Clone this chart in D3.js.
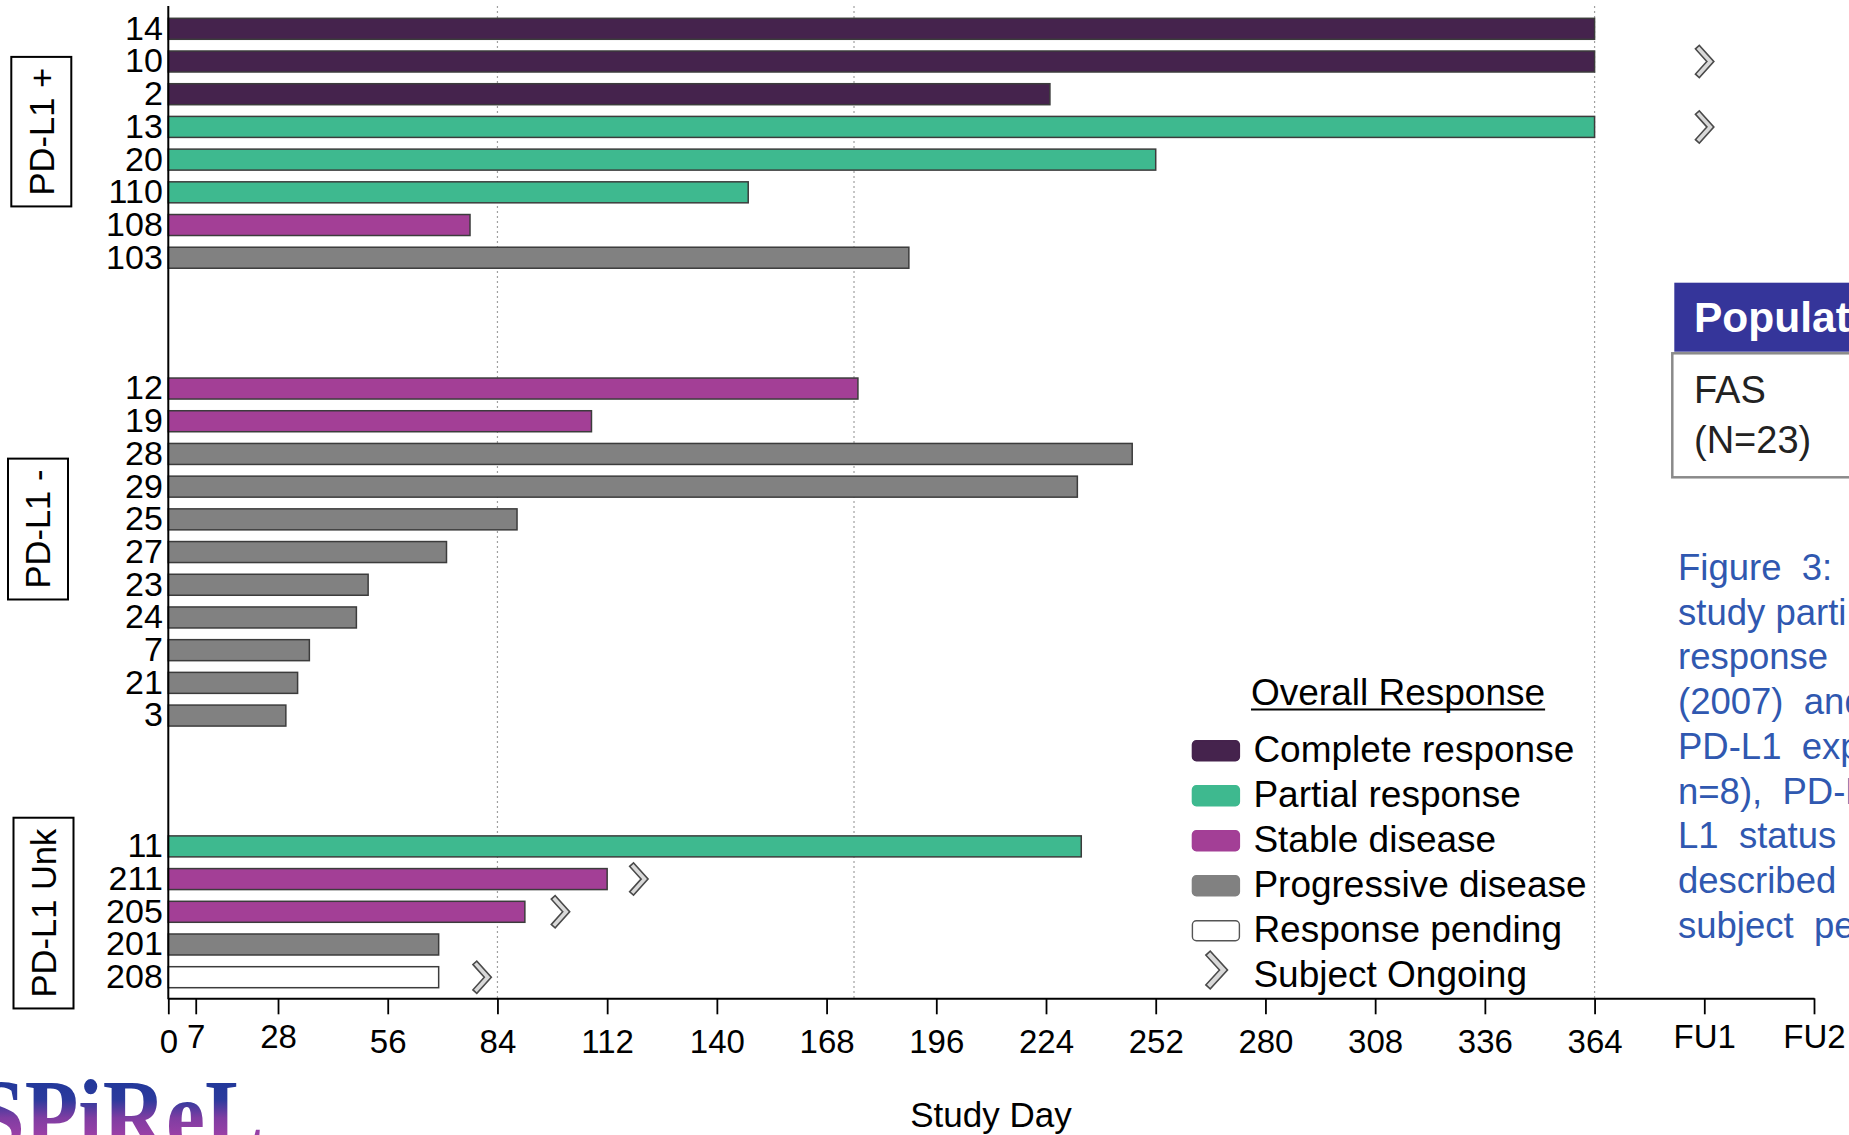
<!DOCTYPE html>
<html>
<head>
<meta charset="utf-8">
<script src="https://cdn.jsdelivr.net/npm/d3@7"></script>
<style>
  html, body { margin: 0; padding: 0; background: #fff; }
  svg { display: block; }
</style>
</head>
<body>
<svg id="chart" width="1849" height="1135"></svg>
<script>
// ---- data -------------------------------------------------------------
// Subjects listed top to bottom inside each PD-L1 stratum
const subjects = ["14", "10", "2", "13", "20", "110", "108", "103",
  "12", "19", "28", "29", "25", "27", "23", "24", "7", "21", "3",
  "11", "211", "205", "201", "208"];
const strata = ["PD-L1 +", "PD-L1 +", "PD-L1 +", "PD-L1 +", "PD-L1 +", "PD-L1 +", "PD-L1 +", "PD-L1 +",
  "PD-L1 -", "PD-L1 -", "PD-L1 -", "PD-L1 -", "PD-L1 -", "PD-L1 -", "PD-L1 -", "PD-L1 -", "PD-L1 -", "PD-L1 -", "PD-L1 -",
  "PD-L1 Unk", "PD-L1 Unk", "PD-L1 Unk", "PD-L1 Unk", "PD-L1 Unk"];
// Last study day on treatment
const studyDays = [364, 364, 225, 364, 252, 148, 77, 189,
  176, 108, 246, 232, 89, 71, 51, 48, 36, 33, 30,
  233, 112, 91, 69, 69];
// Best overall response: CR, PR, SD, PD, NE (pending)
const responses = ["CR", "CR", "CR", "PR", "PR", "PR", "SD", "PD",
  "SD", "SD", "PD", "PD", "PD", "PD", "PD", "PD", "PD", "PD", "PD",
  "PR", "SD", "SD", "PD", "NE"];
// Subjects still on study and the day where their marker sits
const ongoingSubjects = ["10", "13", "211", "205", "208"];
const ongoingMarkDay = [392, 392, 120, 100, 80];

const groupNames = ["PD-L1 +", "PD-L1 -", "PD-L1 Unk"];
const responseCodes = ["CR", "PR", "SD", "PD", "NE"];
const responseNames = ["Complete response", "Partial response", "Stable disease",
  "Progressive disease", "Response pending"];
const responseColors = ["#45234d", "#3eb98f", "#a33f96", "#818181", "#ffffff"];

const tickDays = [0, 7, 28, 56, 84, 112, 140, 168, 196, 224, 252, 280, 308, 336, 364, 392, 420];
const tickText = ["0", "7", "28", "56", "84", "112", "140", "168", "196", "224", "252",
  "280", "308", "336", "364", "FU1", "FU2"];
const referenceDays = [84, 175, 364];

const captionLines = ["Figure  3:", "study parti", "response", "(2007)  and", "PD-L1  exp",
  "n=8),  PD-L1", "L1  status", "described", "subject  pe"];

// ---- layout -----------------------------------------------------------
const FONT = "'Liberation Sans', Arial, Helvetica, sans-serif";
const axisY = 998.3;
const raisedTicks = [7, 28, 392, 420];
const groupBoxX = [41.3, 38, 43.5];
const groupShift = [-11.6, -23, 1.3];

const svg = d3.select("#chart");

// rows: strata separated by three empty rows
const rowKeys = [];
groupNames.forEach((g, gi) => {
  if (gi > 0) for (let k = 0; k < 3; k++) rowKeys.push(`gap-${gi}-${k}`);
  subjects.forEach((s, i) => { if (strata[i] === g) rowKeys.push(s); });
});

const x = d3.scaleLinear().domain([0, 420]).range([168.3, 1814]);
const y = d3.scaleBand().domain(rowKeys).range([12.45, 993.55])
  .paddingInner(0.358).paddingOuter(0.179);
const color = d3.scaleOrdinal().domain(responseCodes).range(responseColors);

const rows = subjects.map((s, i) => ({ s, day: studyDays[i], r: responses[i] }));

// dotted reference lines
svg.append("g").selectAll("line").data(referenceDays).join("line")
  .attr("x1", d => x(d)).attr("x2", d => x(d))
  .attr("y1", 6).attr("y2", axisY)
  .attr("stroke", "#a0a0a0").attr("stroke-width", 1.2)
  .attr("stroke-dasharray", "2,3");

// bars
svg.append("g").selectAll("rect").data(rows).join("rect")
  .attr("x", x(0))
  .attr("y", d => y(d.s))
  .attr("width", d => x(d.day) - x(0))
  .attr("height", y.bandwidth())
  .attr("fill", d => color(d.r))
  .attr("stroke", "#3c3c3c").attr("stroke-width", 1.5);

// subject labels
const gy = svg.append("g").attr("transform", `translate(${x(0)},0)`)
  .call(d3.axisLeft(y).tickSize(0).tickPadding(5.5)
    .tickFormat(k => k.startsWith("gap") ? "" : k));
gy.attr("font-family", FONT).attr("font-size", 34);
gy.select(".domain").remove();
gy.selectAll("text").attr("fill", "#000");

// vertical axis line
svg.append("line")
  .attr("x1", x(0)).attr("x2", x(0)).attr("y1", 6).attr("y2", axisY + 1)
  .attr("stroke", "#000").attr("stroke-width", 2);

// study day axis
const gx = svg.append("g").attr("transform", `translate(0,${axisY})`)
  .call(d3.axisBottom(x).tickValues(tickDays)
    .tickFormat((d, i) => tickText[i]).tickSize(16).tickSizeOuter(0).tickPadding(15.3));
gx.attr("font-family", FONT).attr("font-size", 33);
gx.select(".domain").attr("stroke", "#000").attr("stroke-width", 2);
gx.selectAll(".tick line").attr("stroke", "#000").attr("stroke-width", 1.8);
gx.selectAll(".tick text").attr("fill", "#000")
  .filter(d => raisedTicks.includes(d)).attr("y", 16 + 10);

svg.append("text")
  .attr("x", 991).attr("y", 1127)
  .attr("text-anchor", "middle")
  .attr("font-family", FONT).attr("font-size", 35).attr("fill", "#000")
  .text("Study Day");

// ongoing chevron marker
function drawChevron(g, w, h, t) {
  const pts = [[-w / 2, -h / 2], [w / 2, 0], [-w / 2, h / 2]];
  const ux = (w) / Math.hypot(w, h / 2), uy = (h / 2) / Math.hypot(w, h / 2);
  const s = 1.6;
  const inner = [[-w / 2 + s * ux, -h / 2 + s * uy], [w / 2, 0], [-w / 2 + s * ux, h / 2 - s * uy]];
  g.append("path").attr("d", d3.line()(pts))
    .attr("fill", "none").attr("stroke", "#4a4a4a").attr("stroke-width", t)
    .attr("stroke-linejoin", "miter").attr("stroke-miterlimit", 6);
  g.append("path").attr("d", d3.line()(inner))
    .attr("fill", "none").attr("stroke", "#d9d9d9").attr("stroke-width", t - 3.2)
    .attr("stroke-linejoin", "miter").attr("stroke-miterlimit", 6);
}

svg.append("g").selectAll("g")
  .data(ongoingSubjects.map((s, i) => ({ s, day: ongoingMarkDay[i] })))
  .join("g")
  .attr("transform", d => `translate(${x(d.day) - 0.7},${y(d.s) + y.bandwidth() / 2})`)
  .each(function () { drawChevron(d3.select(this), 13.5, 30, 6.8); });

// stratum boxes
groupNames.forEach((g, gi) => {
  const members = subjects.filter((s, i) => strata[i] === g);
  const top = y(members[0]);
  const bottom = y(members[members.length - 1]) + y.bandwidth();
  const cy = (top + bottom) / 2 + groupShift[gi];
  const gg = svg.append("g").attr("transform", `translate(${groupBoxX[gi]},${cy}) rotate(-90)`);
  const rect = gg.append("rect");
  const txt = gg.append("text")
    .attr("text-anchor", "middle").attr("dy", "0.358em")
    .attr("font-family", FONT).attr("font-size", 34.5).attr("fill", "#000")
    .text(g);
  const len = txt.node().getComputedTextLength();
  rect.attr("x", -len / 2 - 11).attr("width", len + 22)
    .attr("y", -30).attr("height", 60)
    .attr("fill", "#fff").attr("stroke", "#000").attr("stroke-width", 2);
});

// legend
const legend = svg.append("g").attr("font-family", FONT).attr("font-size", 37).attr("fill", "#000");
const title = legend.append("text").attr("x", 1251).attr("y", 705).text("Overall Response");
legend.append("rect").attr("x", 1251).attr("y", 708.5)
  .attr("width", title.node().getComputedTextLength()).attr("height", 2).attr("fill", "#000");

const legendRow = d3.scaleLinear().domain([0, 1]).range([761.7, 806.7]);
const items = legend.selectAll("g.item").data(responseCodes).join("g").attr("class", "item");
items.append("rect")
  .attr("x", 1192.4).attr("y", (d, i) => legendRow(i) - 21)
  .attr("width", 47).attr("height", 20).attr("rx", 4)
  .attr("fill", d => color(d))
  .attr("stroke", d => d === "NE" ? "#555" : color(d)).attr("stroke-width", 1.4);
items.append("text")
  .attr("x", 1253.4).attr("y", (d, i) => legendRow(i))
  .text((d, i) => responseNames[i]);

const ongoingIdx = responseCodes.length;
drawChevron(legend.append("g").attr("transform", `translate(1215.5,${legendRow(ongoingIdx) - 16.7})`), 16, 35, 7.5);
legend.append("text").attr("x", 1253.4).attr("y", legendRow(ongoingIdx)).text("Subject Ongoing");

// population table
svg.append("rect").attr("x", 1674.3).attr("y", 282.7).attr("width", 200).attr("height", 69)
  .attr("fill", "#35359a");
svg.append("text").attr("x", 1694).attr("y", 331.7)
  .attr("font-family", FONT).attr("font-size", 42.5).attr("font-weight", "bold").attr("fill", "#fff")
  .text("Population");
svg.append("rect").attr("x", 1672.3).attr("y", 353.3).attr("width", 200).attr("height", 124)
  .attr("fill", "#fff").attr("stroke", "#8a8a8a").attr("stroke-width", 2.5);
svg.append("text").attr("x", 1694).attr("y", 403.3)
  .attr("font-family", FONT).attr("font-size", 38).attr("fill", "#222").text("FAS");
svg.append("text").attr("x", 1694).attr("y", 452.7)
  .attr("font-family", FONT).attr("font-size", 38).attr("fill", "#222").text("(N=23)");

// caption
svg.append("g").attr("font-family", FONT).attr("font-size", 36.5).attr("fill", "#3058b0")
  .selectAll("text").data(captionLines).join("text")
  .attr("x", 1678).attr("y", (d, i) => 580 + i * 44.7)
  .style("white-space", "pre")
  .text(d => d);

// logo (gradient coordinates are in the text's own, translated space)
const logoBaseline = 1150;
const defs = svg.append("defs");
const grad = defs.append("linearGradient").attr("id", "logoFill")
  .attr("gradientUnits", "userSpaceOnUse").attr("x1", 0).attr("x2", 0)
  .attr("y1", 1082 - logoBaseline).attr("y2", 1140 - logoBaseline);
grad.append("stop").attr("offset", 0).attr("stop-color", "#22389a");
grad.append("stop").attr("offset", 0.3).attr("stop-color", "#2b3a9d");
grad.append("stop").attr("offset", 0.62).attr("stop-color", "#7f3da2");
grad.append("stop").attr("offset", 1).attr("stop-color", "#a241a8");
svg.append("text")
  .attr("transform", `translate(-24,${logoBaseline}) scale(0.86,1)`)
  .attr("font-family", "'Liberation Serif', 'Times New Roman', serif")
  .attr("font-size", 102).attr("font-weight", "bold")
  .attr("fill", "url(#logoFill)")
  .text("SPiReL");
</script>
</body>
</html>
